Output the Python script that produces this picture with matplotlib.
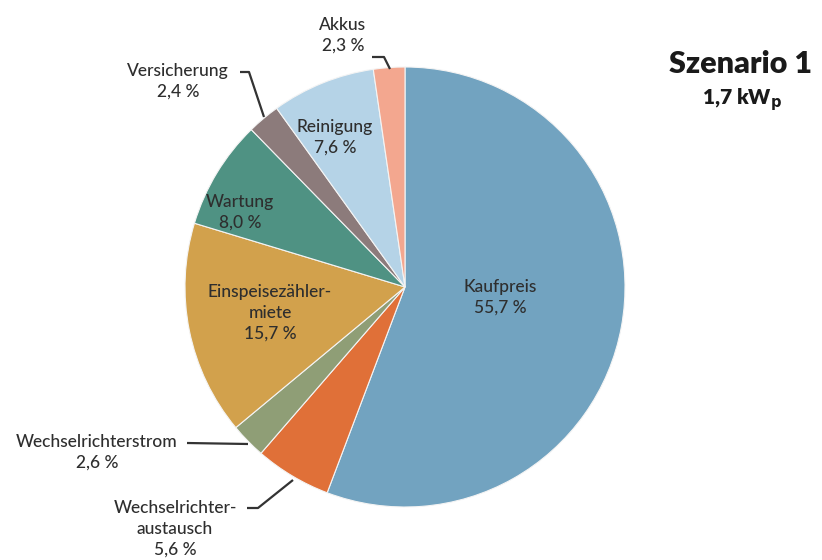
import matplotlib
matplotlib.use("Agg")
import matplotlib.pyplot as plt

categories = ["Kaufpreis", "Wechselrichteraustausch", "Wechselrichterstrom",
              "Einspeisezählermiete", "Wartung", "Versicherung", "Reinigung", "Akkus"]
shares = [55.7, 5.6, 2.6, 15.7, 8.0, 2.4, 7.6, 2.3]
label_names = ["Kaufpreis", "Wechselrichter-\naustausch", "Wechselrichterstrom",
               "Einspeisezähler-\nmiete", "Wartung", "Versicherung", "Reinigung", "Akkus"]
colors = ["#72a3c0", "#e07038", "#8f9e76", "#d2a14c", "#4f9283", "#8c7b7b", "#b5d3e7", "#f3a78f"]

W, H = 822, 560
fig = plt.figure(figsize=(W / 100, H / 100), dpi=100)
ax = fig.add_axes([0, 0, 1, 1])

def Y(py):
    return H - py

cx, cy, r = 405, 287, 220
ax.pie(shares, colors=colors, startangle=90, counterclock=False,
       center=(cx, Y(cy)), radius=r, frame=True,
       wedgeprops=dict(edgecolor="#f4f4f4", linewidth=0.8))
ax.set_xlim(0, W)
ax.set_ylim(0, H)
ax.set_aspect("equal")
ax.axis("off")

def pct(v):
    return f"{v:.1f}".replace(".", ",") + " %"

txt = dict(color="#2e2e2e", fontsize=12.5, fontweight="medium", ha="center",
           va="center", family="Lato")

# centre of each label block, in pixel coordinates from the top-left
positions = {
    "Kaufpreis": (500, 297),
    "Wechselrichteraustausch": (175, 529),
    "Wechselrichterstrom": (97, 452),
    "Einspeisezählermiete": (270, 313),
    "Wartung": (240, 212),
    "Versicherung": (178, 81),
    "Reinigung": (335, 137),
    "Akkus": (343, 35),
}
for cat, name, v in zip(categories, label_names, shares):
    x, y = positions[cat]
    ax.text(x, Y(y), f"{name}\n{pct(v)}", linespacing=1.35, **txt)

# leader lines
leaders = [
    [(372, 57), (384, 57), (390, 69)],
    [(240, 72), (249, 72), (264, 117)],
    [(187, 443), (248, 444)],
    [(247, 508), (258, 508), (293, 480)],
]
for pts in leaders:
    xs = [p[0] for p in pts]
    ys = [Y(p[1]) for p in pts]
    ax.plot(xs, ys, color="#333333", lw=1.6, solid_capstyle="butt")

ax.text(740, Y(64), "Szenario 1", fontsize=22, fontweight="heavy", color="#1a1a1a",
        ha="center", va="center", family="Lato")
ax.text(742, Y(100), r"1,7 kW$_\mathbf{p}$", fontsize=15, fontweight="heavy", color="#1a1a1a",
        ha="center", va="center", family="Lato")

fig.savefig("out.png", dpi=100)
